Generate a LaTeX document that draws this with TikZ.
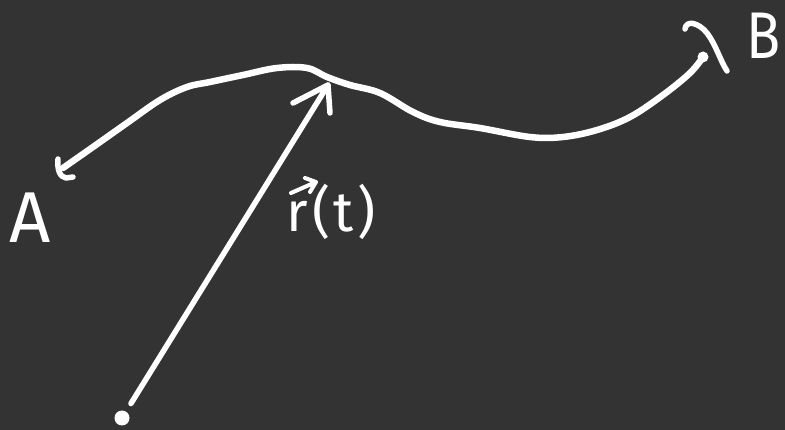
\documentclass[tikz,border=0pt]{standalone}
\usepackage{fontspec}
\setmainfont{Fira Sans}
\definecolor{bg}{RGB}{51,51,51}
\begin{document}
\begin{tikzpicture}[x=1pt,y=-1pt,
  stroke/.style={white, line width=6.5pt, line cap=round, line join=round},
  lbl/.style={white, inner sep=0pt, font=\fontsize{72}{80}\selectfont}]
\fill[bg] (0,0) rectangle (785,430);
\useasboundingbox (0,0) rectangle (785,430);
\coordinate (A) at (63,168);
\coordinate (B) at (703,57);
\draw[stroke] plot[smooth, tension=0.6] coordinates {(A) (93,147) (127,123) (160,100) (187,87) (210,82) (243,75) (277,68) (307,68) (327,77) (350,85) (380,93) (413,112) (440,122) (480,128) (530,137) (563,137) (597,130) (630,117) (663,95) (690,73) (B)};
% hook at A
\draw[stroke, line width=5.5pt] (58,159) .. controls (57,170) and (60,177) .. (66,178) -- (73,177);
% end blob at B and mark
\fill[white] (B) circle (5.5pt);
\draw[stroke, line width=5.5pt] (685,29) .. controls (686,20) and (698,22) .. (707,33) .. controls (716,45) and (720,60) .. (727,71);
% vector
\node[circle, fill=white, inner sep=0pt, minimum size=15pt] (O) at (122,418) {};
\coordinate (T) at (328,85);
\draw[stroke, line width=5.5pt, shorten <=17pt] (O.center) -- (T);
\draw[stroke, line width=5.5pt] (293,103) -- (T) -- (330,113);
% labels
\node[lbl] (la) at (30,218) {A};
\node[lbl, font=\fontsize{66}{72}\selectfont, xscale=0.85] (lb) at (764,36) {B};
\node[white, inner sep=0pt, anchor=base west, font=\fontsize{56}{60}\selectfont] (lr) at (286,232) {r\kern5pt(\kern3pt t\kern3pt)};
\draw[white, line width=4pt, line cap=round, line join=round] (291,193) -- (316,182) (305,178) -- (316,182) -- (310,192);
\end{tikzpicture}
\end{document}
